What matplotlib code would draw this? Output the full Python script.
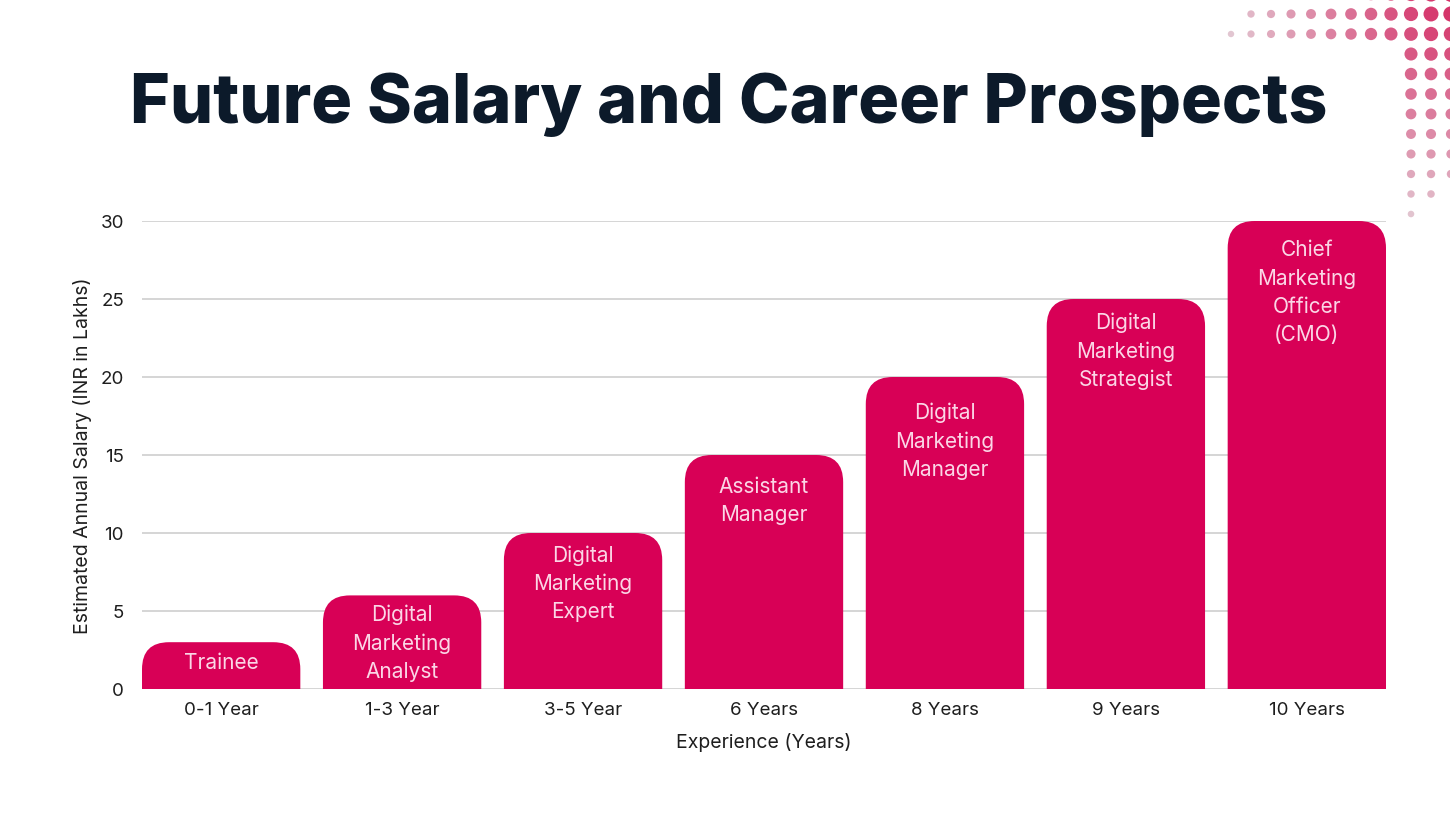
import numpy as np
import matplotlib
matplotlib.use("Agg")
import matplotlib.pyplot as plt
from matplotlib.patches import FancyBboxPatch
from matplotlib.colors import to_rgb

# chart data
experience = ["0-1 Year", "1-3 Year", "3-5 Year", "6 Years", "8 Years", "9 Years", "10 Years"]
salary = [3, 6, 10, 15, 20, 25, 30]
roles = ["Trainee",
         "Digital\nMarketing\nAnalyst",
         "Digital\nMarketing\nExpert",
         "Assistant\nManager",
         "Digital\nMarketing\nManager",
         "Digital\nMarketing\nStrategist",
         "Chief\nMarketing\nOfficer\n(CMO)"]
y_ticks = [0, 5, 10, 15, 20, 25, 30]

BAR_COLOR = "#D80056"
LABEL_COLOR = "#FBD6E6"
TITLE_COLOR = "#0C1A2A"
TEXT_COLOR = "#1E1E1E"
FONT = ["Inter", "DejaVu Sans"]

plt.rcParams["font.family"] = FONT

W, H = 1450, 820
fig = plt.figure(figsize=(W / 100, H / 100), dpi=100)
fig.patch.set_facecolor("white")

bar_w = 0.875
ax = fig.add_axes([142 / W, 1 - 690 / H, (1386 - 142) / W, (690 - 222) / H])
ax.set_xlim(-bar_w / 2, len(salary) - 1 + bar_w / 2)
ax.set_ylim(0, 30)

# aspect so that corners come out round
ax_w_px = (1386 - 142)
ax_h_px = (690 - 222)
px_x = ax_w_px / (len(salary) - 1 + bar_w)
px_y = ax_h_px / 30
aspect = px_x / px_y
r = 27 / px_x

for i, v in enumerate(salary):
    box = FancyBboxPatch((i - bar_w / 2, -3), bar_w, v + 3,
                         boxstyle="round,pad=0,rounding_size={}".format(r),
                         mutation_aspect=aspect,
                         facecolor=BAR_COLOR, edgecolor="none", zorder=3)
    ax.add_patch(box)

# label offsets below the bar top (points)
label_offsets = [7, 6, 8, 15, 18, 9, 13]
for i, (v, role) in enumerate(zip(salary, roles)):
    ax.annotate(role, xy=(i, v), xytext=(0, -label_offsets[i]),
                textcoords="offset points", ha="center", va="top",
                fontsize=15, color=LABEL_COLOR, linespacing=1.5, zorder=4)

ax.set_xticks(range(len(experience)))
ax.set_xticklabels(experience)
ax.set_yticks(y_ticks)
ax.tick_params(axis="both", length=0, labelsize=13.5, colors=TEXT_COLOR)
ax.tick_params(axis="x", pad=9)
ax.tick_params(axis="y", pad=13)
ax.yaxis.grid(True, color="#D2D2D2", linewidth=1.3, zorder=0)
ax.set_axisbelow(True)
for s in ax.spines.values():
    s.set_visible(False)

ax.set_xlabel("Experience (Years)", fontsize=14, color=TEXT_COLOR, labelpad=10)
ax.set_ylabel("Estimated Annual Salary (INR in Lakhs)", fontsize=14,
              color=TEXT_COLOR, labelpad=6)

fig.text(729 / W, 1 - 123 / H, "Future Salary and Career Prospects",
         ha="center", va="baseline", fontsize=49, fontweight="heavy",
         color=TITLE_COLOR)

# decorative dot pattern, top right
deco = fig.add_axes([0, 0, 1, 1], zorder=-1)
deco.set_xlim(0, W)
deco.set_ylim(H, 0)
deco.axis("off")
pts = []
for yy, x0 in [(-5, 1330), (15, 1250), (35, 1230)]:
    for xx in range(x0, 1451, 20):
        pts.append((xx + 1, yy))
for xx, y1 in [(1410, 215), (1430, 195), (1450, 175)]:
    for yy in range(55, y1 + 1, 20):
        pts.append((xx + 1, yy))
pts = np.array(pts, dtype=float)
d = np.hypot(pts[:, 0] - 1450, pts[:, 1] - 0)
t = np.clip(1 - d / 250, 0, 1)
far = np.array(to_rgb("#E4DADF"))
near = np.array(to_rgb("#D42A63"))
cols = far + (near - far) * t[:, None]
rad = 2.6 + 5.4 * t
sizes = (2 * rad * 0.72) ** 2
deco.scatter(pts[:, 0], pts[:, 1], s=sizes, c=cols, edgecolors="none")

fig.savefig("out.png", dpi=100, facecolor="white")
